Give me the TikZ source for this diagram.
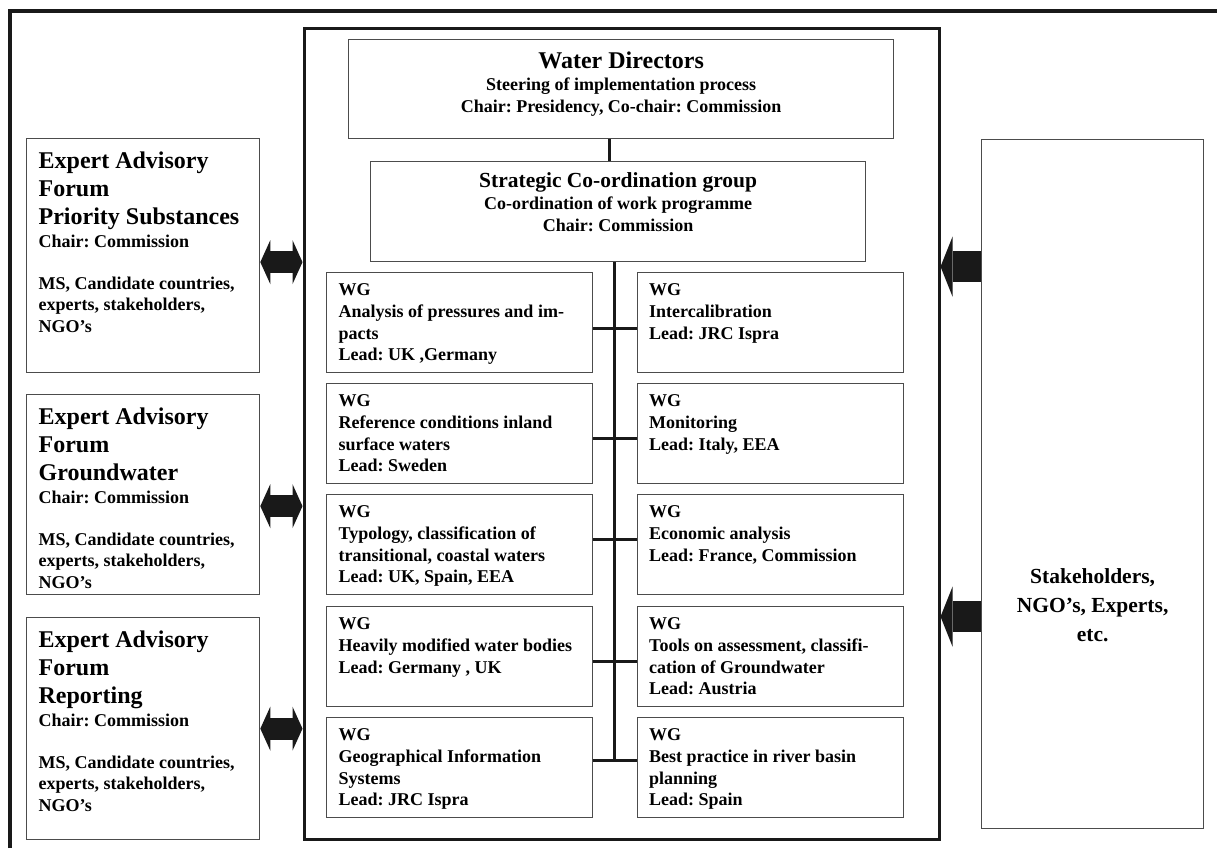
\documentclass[tikz,border=0pt]{standalone}
\usepackage{fontspec}
\setmainfont{Liberation Serif}
\usepackage{tikz}
\usetikzlibrary{arrows.meta}
\usetikzlibrary{calc}
\frenchspacing

\definecolor{boxgray}{gray}{0.3}

\newcommand{\wgtext}[1]{\parbox[t][100pt][t]{242pt}{\raggedright\rightskip=0pt plus 1fil minus 30pt\bfseries\fontsize{18}{21.7}\selectfont\rule{0pt}{23pt}#1}}
\newcommand{\forumtext}[2]{\parbox[t][#1][t]{209pt}{\raggedright\rightskip=0pt plus 1fil minus 30pt\bfseries
    \fontsize{24}{28}\selectfont\rule{0pt}{29.5pt}Expert Advisory\\Forum\\#2\par
    \fontsize{18}{23}\selectfont Chair: Commission\par
    \fontsize{18}{21.5}\selectfont\vspace{20.5pt}MS, Candidate countries,\\experts, stakeholders,\\NGO's}}

\begin{document}
\begin{tikzpicture}[x=1pt, y=-1pt,
        frame_style/.style={draw=black!90, line width=3pt, anchor=north west, inner sep=0pt},
        head_style/.style={draw=boxgray, line width=1.3pt, anchor=north west, inner sep=0pt},
        wg_style/.style={draw=boxgray, line width=1.3pt, anchor=north west, inner xsep=12pt, inner ysep=0pt},
        link_style/.style={draw=black!90, line width=3pt},
        both_arrow_style/.style={draw=black!90, line width=22pt, {Triangle[length=10pt,width=44pt,line width=0pt]}-{Triangle[length=10pt,width=44pt,line width=0pt]}},
        in_arrow_style/.style={draw=black!90, line width=31pt, -{Triangle[length=12pt,width=60pt,line width=0pt]}}]

        \useasboundingbox (0,0) rectangle (1217,848);

        \draw [line width=4pt, draw=black!90] (9.5,848) -- (9.5,11.3) -- (1217,11.3);

        \node [frame_style, minimum width=635pt, minimum height=811pt] (core) at (302.5,27.3) {};

        \node [head_style] (wd) at (348,39) {\parbox[t][99pt][t]{545pt}{\centering\bfseries\fontsize{24}{24}\selectfont\rule{0pt}{29pt}Water Directors\par\fontsize{18}{22}\selectfont Steering of implementation process\\Chair: Presidency, Co-chair: Commission}};

        \node [head_style] (scg) at (370,161) {\parbox[t][100pt][t]{495pt}{\centering\bfseries\fontsize{21.5}{21.5}\selectfont\rule{0pt}{26pt}Strategic Co-ordination group\par\fontsize{18}{21.7}\selectfont Co-ordination of work programme\\Chair: Commission}};

        \node [wg_style] (lwg1) at (326,272) {\wgtext{WG\\Analysis of pressures and im-\\pacts\\Lead: UK ,Germany}};

        \node [wg_style] (lwg2) at (326,383) {\wgtext{WG\\Reference conditions inland\\surface waters\\Lead: Sweden}};

        \node [wg_style] (lwg3) at (326,494) {\wgtext{WG\\Typology, classification of\\transitional, coastal waters\\Lead: UK, Spain, EEA}};

        \node [wg_style] (lwg4) at (326,606) {\wgtext{WG\\Heavily modified water bodies\\Lead: Germany , UK}};

        \node [wg_style] (lwg5) at (326,717) {\wgtext{WG\\Geographical Information\\Systems\\Lead: JRC Ispra}};

        \node [wg_style] (rwg1) at (636.5,272) {\wgtext{WG\\Intercalibration\\Lead: JRC Ispra}};

        \node [wg_style] (rwg2) at (636.5,383) {\wgtext{WG\\Monitoring\\Lead: Italy, EEA}};

        \node [wg_style] (rwg3) at (636.5,494) {\wgtext{WG\\Economic analysis\\Lead: France, Commission}};

        \node [wg_style] (rwg4) at (636.5,606) {\wgtext{WG\\Tools on assessment, classifi-\\cation of Groundwater\\Lead: Austria}};

        \node [wg_style] (rwg5) at (636.5,717) {\wgtext{WG\\Best practice in river basin\\planning\\Lead: Spain}};

        \node [wg_style] (eaf1) at (26,138) {\forumtext{234pt}{Priority Substances}};

        \node [wg_style] (eaf2) at (26,394) {\forumtext{200pt}{Groundwater}};

        \node [wg_style] (eaf3) at (26,617) {\forumtext{222pt}{Reporting}};

        \node [head_style] (stake) at (981,139) {\parbox[t][689pt][t]{222pt}{\centering\bfseries\fontsize{21.5}{29}\selectfont\rule{0pt}{444pt}Stakeholders,\\NGO's, Experts,\\etc.}};

        \coordinate (trunktop) at ([xshift=-3.5pt]scg.south);
        \coordinate (trunkend) at ([yshift=7pt]lwg5.east);

        \draw [link_style] ([xshift=-11.5pt]wd.south) -- ([xshift=-11.5pt]wd.south |- scg.north);

        \draw [link_style] (trunktop) -- (trunktop |- trunkend);

        \draw [link_style] ([yshift=-6pt]lwg1.east) -- ([yshift=-6pt]rwg1.west);

        \draw [link_style] ([yshift=-5pt]lwg2.east) -- ([yshift=-5pt]rwg2.west);

        \draw [link_style] ([yshift=5pt]lwg3.east) -- ([yshift=5pt]rwg3.west);

        \draw [link_style] ([yshift=-5pt]lwg4.east) -- ([yshift=-5pt]rwg4.west);

        \draw [link_style] (trunkend) -- (trunkend -| rwg5.west);

        \draw [both_arrow_style] ([yshift=-6.5pt]eaf1.east) -- ([yshift=-6.5pt]eaf1.east -| core.west);

        \draw [both_arrow_style] ([yshift=-11.5pt]eaf2.east) -- ([yshift=-11.5pt]eaf2.east -| core.west);

        \draw [both_arrow_style] (eaf3.east) -- (eaf3.east -| core.west);

        \draw [in_arrow_style] ([yshift=217.5pt]stake.west) -- ([yshift=217.5pt]stake.west -| core.east);

        \draw [in_arrow_style] ([yshift=-132.5pt]stake.west) -- ([yshift=-132.5pt]stake.west -| core.east);

\end{tikzpicture}
\end{document}
